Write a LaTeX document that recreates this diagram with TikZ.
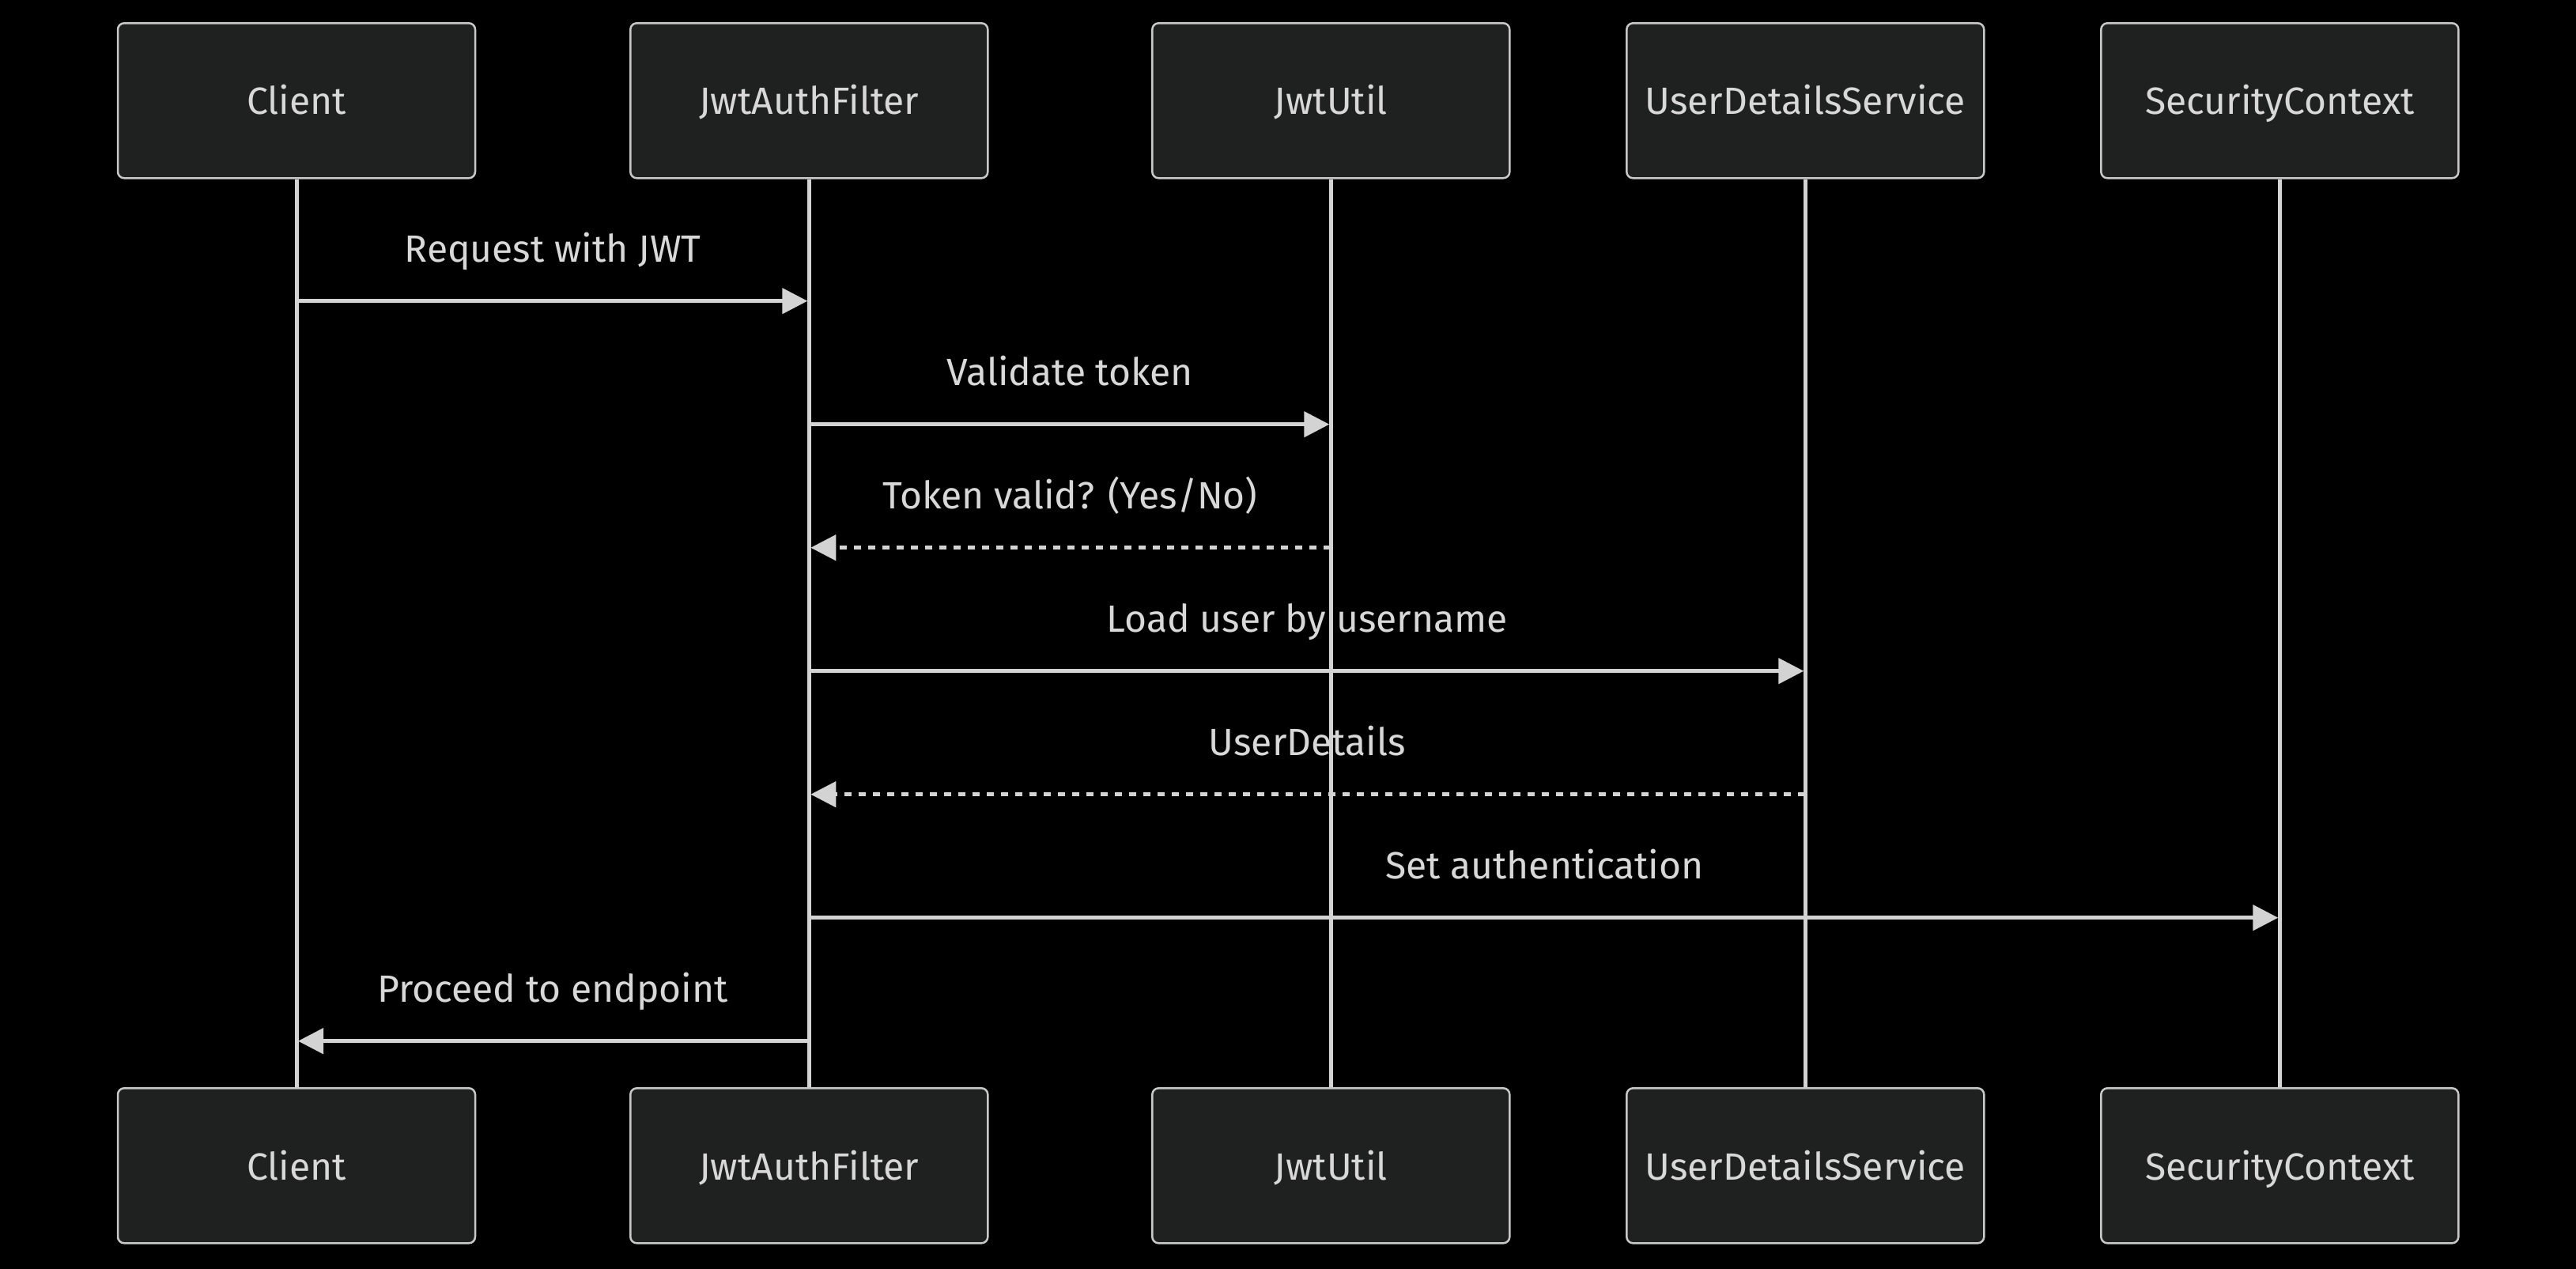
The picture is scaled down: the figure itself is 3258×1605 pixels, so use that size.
\documentclass[tikz,border=0pt]{standalone}
\usepackage{fontspec}
\setmainfont{Fira Sans}
\usetikzlibrary{arrows.meta,calc}
\definecolor{bg}{HTML}{000000}
\definecolor{boxfill}{HTML}{1F2020}
\definecolor{boxline}{HTML}{C8C8C8}
\definecolor{lineclr}{HTML}{D3D3D3}
\definecolor{txt}{HTML}{D8D8D8}
\tikzset{
  actor/.style={draw=boxline, line width=2.5pt, fill=boxfill, rounded corners=8pt,
    minimum width=452pt, minimum height=196pt, inner sep=0pt, text=txt,
    font=\fontsize{48}{52}\selectfont, text height=35.4pt, text depth=0pt},
  lifeline/.style={draw=lineclr, line width=5pt},
  msg/.style={draw=lineclr, line width=4.7pt, -{Triangle[length=32pt,width=32pt]}, shorten >=2pt},
  reply/.style={msg, dash pattern=on 9pt off 9pt},
  lbl/.style={text=txt, anchor=base, inner sep=0pt, font=\fontsize{48}{52}\selectfont}
}
\begin{document}
\begin{tikzpicture}[x=1pt,y=-1pt]
\fill[bg] (0,0) rectangle (3258,1605);
\useasboundingbox (0,0) rectangle (3258,1605);
% actors
\node[actor] (t1) at (375,127.3) {Client};
\node[actor] (t2) at (1023.3,127.3) {JwtAuthFilter};
\node[actor] (t3) at (1683.3,127.3) {JwtUtil};
\node[actor] (t4) at (2283.3,127.3) {UserDetailsService};
\node[actor] (t5) at (2883.3,127.3) {SecurityContext};
\node[actor] (b1) at (375,1474.3) {Client};
\node[actor] (b2) at (1023.3,1474.3) {JwtAuthFilter};
\node[actor] (b3) at (1683.3,1474.3) {JwtUtil};
\node[actor] (b4) at (2283.3,1474.3) {UserDetailsService};
\node[actor] (b5) at (2883.3,1474.3) {SecurityContext};
% lifelines
\foreach \i in {1,...,5}{\draw[lifeline] (t\i.south) -- (b\i.north);}
% message end points
\coordinate (m1a) at (t1.south |- 0,380.7);   \coordinate (m1b) at (t2.south |- 0,380.7);
\coordinate (m2a) at (t2.south |- 0,536.7);   \coordinate (m2b) at (t3.south |- 0,536.7);
\coordinate (m3a) at (t3.south |- 0,692.7);   \coordinate (m3b) at (t2.south |- 0,692.7);
\coordinate (m4a) at (t2.south |- 0,848.7);   \coordinate (m4b) at (t4.south |- 0,848.7);
\coordinate (m5a) at (t4.south |- 0,1004.7);  \coordinate (m5b) at (t2.south |- 0,1004.7);
\coordinate (m6a) at (t2.south |- 0,1160.7);  \coordinate (m6b) at (t5.south |- 0,1160.7);
\coordinate (m7a) at (t2.south |- 0,1316.7);  \coordinate (m7b) at (t1.south |- 0,1316.7);
% messages
\draw[msg] (m1a) -- (m1b);
\draw[msg] (m2a) -- (m2b);
\draw[reply] (m3a) -- (m3b);
\draw[msg] (m4a) -- (m4b);
\draw[reply] (m5a) -- (m5b);
\draw[msg] (m6a) -- (m6b);
\draw[msg] (m7a) -- (m7b);
% labels
\node[lbl] (l1) at ($(m1a)!0.5!(m1b)+(0,-49)$) {Request with JWT};
\node[lbl] (l2) at ($(m2a)!0.5!(m2b)+(0,-49)$) {Validate token};
\node[lbl] (l3) at ($(m3a)!0.5!(m3b)+(0,-49)$) {Token valid? (Yes/No)};
\node[lbl] (l4) at ($(m4a)!0.5!(m4b)+(0,-49)$) {Load user by username};
\node[lbl] (l5) at ($(m5a)!0.5!(m5b)+(0,-49)$) {UserDetails};
\node[lbl] (l6) at ($(m6a)!0.5!(m6b)+(0,-49)$) {Set authentication};
\node[lbl] (l7) at ($(m7a)!0.5!(m7b)+(0,-49)$) {Proceed to endpoint};
\end{tikzpicture}
\end{document}
